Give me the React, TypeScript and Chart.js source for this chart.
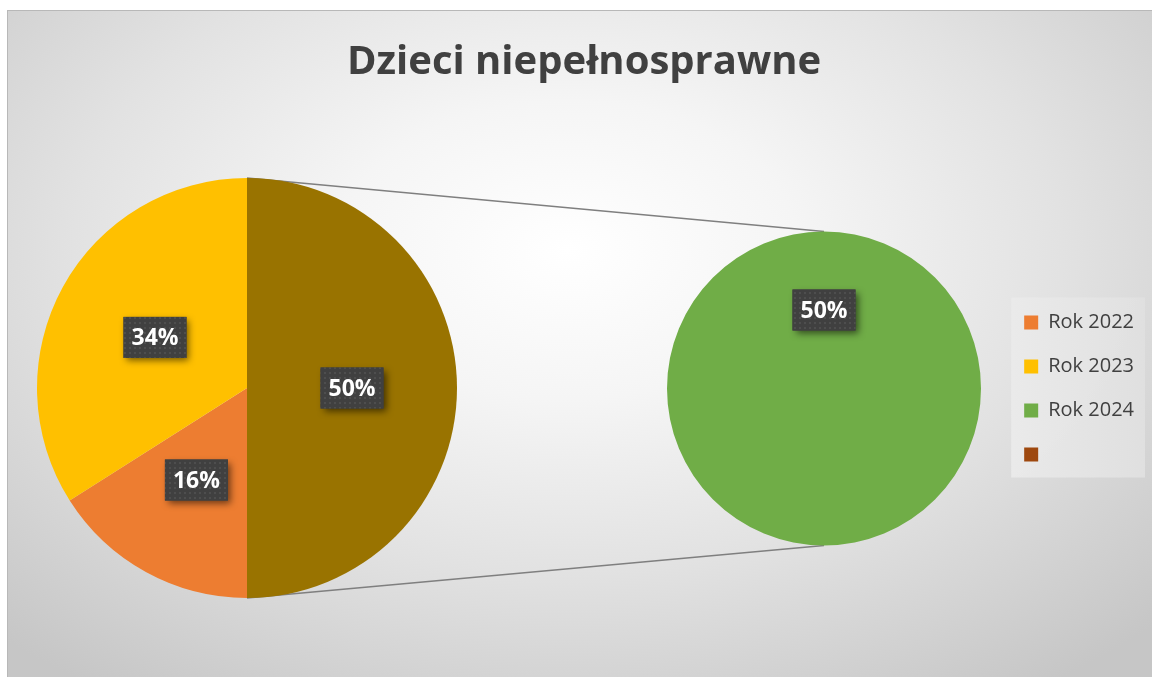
import React, { useEffect, useRef } from 'react';
import { Chart, registerables } from 'chart.js';

Chart.register(...registerables);

// ---- data ----
const titleText = 'Dzieci niepełnosprawne';
const categories = ['Rok 2022', 'Rok 2023', 'Rok 2024'];
const shares = [16, 34, 50]; // percent of total
const categoryColors = ['#ED7D31', '#FFC000', '#70AD47'];
const secondPieCategories = ['Rok 2024']; // categories split off into the second pie
const otherLabel = 'Inne';
const otherColor = '#997300';
const extraLegendLabels = [''];
const extraLegendColors = ['#9E480E'];

// ---- derived datasets ----
const primaryIdx = categories.map((_, i) => i).filter((i) => !secondPieCategories.includes(categories[i]));
const secondIdx = categories.map((_, i) => i).filter((i) => secondPieCategories.includes(categories[i]));
const secondValues = secondIdx.map((i) => shares[i]);
const secondColors = secondIdx.map((i) => categoryColors[i]);
const otherValue = secondValues.reduce((a, b) => a + b, 0);
const mainLabels = [otherLabel, ...primaryIdx.map((i) => categories[i])];
const mainValues = [otherValue, ...primaryIdx.map((i) => shares[i])];
const mainColors = [otherColor, ...primaryIdx.map((i) => categoryColors[i])];
const legendLabels = [...categories, ...extraLegendLabels];
const legendColors = [...categoryColors, ...extraLegendColors];

// ---- layout (canvas px) ----
const W = 1145;
const H = 667;
const LAYOUT = {
  main: { cx: 240, cy: 378, r: 210 },
  second: { cx: 817, cy: 378.5, r: 157 },
};
const FONT = 'Open Sans';

function placeArcs(chart: any) {
  const specs = [LAYOUT.main, LAYOUT.second];
  specs.forEach((s, di) => {
    const meta = chart.getDatasetMeta(di);
    meta.data.forEach((arc: any) => {
      arc.x = s.cx;
      arc.y = s.cy;
      arc.innerRadius = 0;
      arc.outerRadius = s.r;
    });
  });
}

let patternCache: CanvasPattern | null = null;
function labelPattern(ctx: CanvasRenderingContext2D) {
  if (patternCache) return patternCache;
  const c = document.createElement('canvas');
  c.width = 5;
  c.height = 5;
  const p = c.getContext('2d')!;
  p.fillStyle = '#404040';
  p.fillRect(0, 0, 5, 5);
  p.fillStyle = '#4e4e4e';
  p.fillRect(2, 2, 2, 2);
  patternCache = ctx.createPattern(c, 'repeat');
  return patternCache;
}

const pieOfPiePlugin = {
  id: 'pieOfPie',
  afterDatasetsUpdate(chart: any) {
    placeArcs(chart);
  },
  beforeDraw(chart: any) {
    const legend = chart.legend;
    if (!legend || !legend.legendHitBoxes || !legend.legendHitBoxes.length) return;
    const boxes = legend.legendHitBoxes;
    const left = Math.min(...boxes.map((b: any) => b.left)) - 13;
    const right = Math.max(...boxes.map((b: any) => b.left + b.width)) + 11;
    const top = Math.min(...boxes.map((b: any) => b.top)) - 15;
    const bottom = Math.max(...boxes.map((b: any) => b.top + b.height)) + 13;
    const ctx = chart.ctx;
    ctx.save();
    const g = ctx.createLinearGradient(left, 0, right, 0);
    g.addColorStop(0, 'rgba(234,234,234,0.95)');
    g.addColorStop(1, 'rgba(224,224,224,0.95)');
    ctx.fillStyle = g;
    ctx.fillRect(left, top, right - left, bottom - top);
    ctx.restore();
  },
  beforeDatasetsDraw(chart: any) {
    placeArcs(chart);
    const ctx = chart.ctx;
    const other = chart.getDatasetMeta(0).data[0];
    const sec = chart.getDatasetMeta(1).data[0];
    if (!other || !sec) return;
    const p1 = { x: other.x + other.outerRadius * Math.cos(other.startAngle), y: other.y + other.outerRadius * Math.sin(other.startAngle) };
    const p2 = { x: other.x + other.outerRadius * Math.cos(other.endAngle), y: other.y + other.outerRadius * Math.sin(other.endAngle) };
    const q1 = { x: sec.x, y: sec.y - sec.outerRadius };
    const q2 = { x: sec.x, y: sec.y + sec.outerRadius };
    ctx.save();
    ctx.strokeStyle = '#7f7f7f';
    ctx.lineWidth = 1.5;
    ctx.beginPath();
    ctx.moveTo(p1.x, p1.y);
    ctx.lineTo(q1.x, q1.y);
    ctx.moveTo(p2.x, p2.y);
    ctx.lineTo(q2.x, q2.y);
    ctx.stroke();
    ctx.restore();
  },
  afterDatasetsDraw(chart: any) {
    const ctx: CanvasRenderingContext2D = chart.ctx;
    const total = (chart.data.datasets[0].data as number[]).reduce((a, b) => a + b, 0);
    const bw = 63;
    const bh = 41;
    chart.data.datasets.forEach((ds: any, di: number) => {
      const meta = chart.getDatasetMeta(di);
      meta.data.forEach((arc: any, i: number) => {
        const v = ds.data[i];
        const pct = Math.round((v / total) * 100) + '%';
        const mid = (arc.startAngle + arc.endAngle) / 2;
        const px = arc.x + Math.cos(mid) * arc.outerRadius * 0.5;
        const py = arc.y + Math.sin(mid) * arc.outerRadius * 0.5;
        ctx.save();
        ctx.shadowColor = 'rgba(0,0,0,0.55)';
        ctx.shadowBlur = 7;
        ctx.shadowOffsetX = 3;
        ctx.shadowOffsetY = 3;
        ctx.fillStyle = '#404040';
        ctx.fillRect(px - bw / 2, py - bh / 2, bw, bh);
        ctx.restore();
        ctx.save();
        ctx.fillStyle = labelPattern(ctx) || '#404040';
        ctx.fillRect(px - bw / 2, py - bh / 2, bw, bh);
        ctx.fillStyle = '#ffffff';
        ctx.font = `bold 23px "${FONT}"`;
        ctx.textAlign = 'center';
        ctx.textBaseline = 'middle';
        ctx.fillText(pct, px, py + 1);
        ctx.restore();
      });
    });
  },
};

export default function App() {
  const ref = useRef<HTMLCanvasElement | null>(null);
  useEffect(() => {
    if (!ref.current) return;
    const chart = new Chart(ref.current, {
      type: 'pie',
      data: {
        labels: mainLabels,
        datasets: [
          { data: mainValues, backgroundColor: mainColors, borderWidth: 0 } as any,
          { data: secondValues, backgroundColor: secondColors, borderWidth: 0, rotation: 180 } as any,
        ],
      },
      options: {
        responsive: false,
        animation: false,
        devicePixelRatio: 1,
        events: [],
        layout: { padding: { left: 17, right: 8, top: 0, bottom: 0 } },
        plugins: {
          title: {
            display: true,
            text: titleText,
            color: '#404040',
            font: { family: FONT, size: 40, weight: 'bold' },
            padding: { top: 29, bottom: 13 },
          },
          legend: {
            display: true,
            position: 'right',
            fullSize: false,
            align: 'center',
            onClick: () => {},
            labels: {
              boxWidth: 14,
              boxHeight: 14,
              padding: 24,
              color: '#404040',
              font: { family: FONT, size: 20 },
              generateLabels: () =>
                legendLabels.map((text, i) => ({
                  text,
                  fillStyle: legendColors[i],
                  strokeStyle: legendColors[i],
                  lineWidth: 0,
                  hidden: false,
                  index: i,
                  fontColor: '#404040',
                })),
            },
          },
          tooltip: { enabled: false },
        },
      } as any,
      plugins: [pieOfPiePlugin],
    });
    return () => chart.destroy();
  }, []);

  return (
    <div
      style={{
        position: 'fixed',
        left: 7,
        top: 10,
        width: W,
        height: H,
        background:
          'radial-gradient(ellipse 72% 80% at 49% 36%, #ffffff 0%, #f5f5f5 28%, #e2e2e2 60%, #c6c6c6 100%)',
        boxShadow: 'inset 1px 1px 0 #b8b8b8',
      }}
    >
      <canvas ref={ref} width={W} height={H} style={{ display: 'block' }} />
    </div>
  );
}
